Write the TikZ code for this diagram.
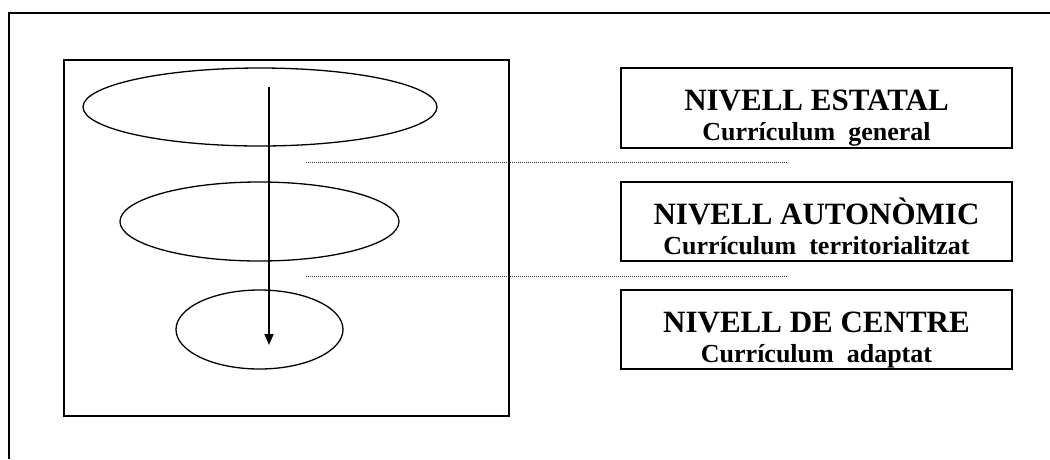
\documentclass[tikz,border=0pt]{standalone}
\usepackage{fontspec}
\setmainfont{Liberation Serif}
\usetikzlibrary{shapes.geometric,arrows.meta}
\begin{document}
\begin{tikzpicture}[x=1pt,y=-1pt,
  frameline/.style={line width=1.8pt},
  ring/.style={draw,ellipse,line width=1.3pt,inner sep=0pt,outer sep=0pt},
  lvlbox/.style={draw,line width=2pt,rectangle,minimum width=391pt,minimum height=79pt,
                 inner sep=0pt},
  lvltitle/.style={anchor=base,inner sep=0pt,font=\bfseries\fontsize{31}{33}\selectfont},
  lvlsub/.style={anchor=base,inner sep=0pt,font=\bfseries\fontsize{26}{28}\selectfont},
  guide/.style={line width=0.8pt,dash pattern=on 1pt off 1pt,black!80},
]
\useasboundingbox (0,0) rectangle (1050,459);
% outer page frame (top and left edges)
\coordinate (fr-r) at (1050,13);
\coordinate (fr-c) at (9,13);
\coordinate (fr-b) at (9,459);
\draw[frameline] (fr-r) -- (fr-c) -- (fr-b);
% inner panel
\node[draw,frameline,rectangle,minimum width=445pt,minimum height=356pt,inner sep=0pt,outer sep=0pt]
  (panel) at (286.5,238) {};
% nested levels
\node[ring,minimum width=354pt,minimum height=78pt] (e1) at (260,107) {};
\node[ring,minimum width=279pt,minimum height=79pt] (e2) at (259.5,221.5) {};
\node[ring,minimum width=167pt,minimum height=79pt] (e3) at (259.5,329.5) {};
% downward arrow
\coordinate (a-top) at (269,87);
\coordinate (a-bot) at (269,345);
\draw[line width=1.6pt,-{Triangle[length=11pt,width=9pt]}] (a-top) -- (a-bot);
% dotted separators
\coordinate (d1-l) at (306,162);
\coordinate (d1-r) at (788,162);
\coordinate (d2-l) at (306,276);
\coordinate (d2-r) at (788,276);
\draw[guide] (d1-l) -- (d1-r);
\draw[guide] (d2-l) -- (d2-r);
% level boxes
\node[lvlbox,minimum height=80pt] (b1) at (816.5,108) {};
\node[lvltitle] (t1) at (816.5,110) {NIVELL ESTATAL};
\node[lvlsub] (s1) at (816.5,140) {Currículum\ \ general};
\node[lvlbox] (b2) at (816.5,221.5) {};
\node[lvltitle] (t2) at (816.5,224) {NIVELL AUTONÒMIC};
\node[lvlsub] (s2) at (816.5,254) {Currículum\ \ territorialitzat};
\node[lvlbox] (b3) at (816.5,329.5) {};
\node[lvltitle] (t3) at (816.5,332) {NIVELL DE CENTRE};
\node[lvlsub] (s3) at (816.5,362) {Currículum\ \ adaptat};
\end{tikzpicture}
\end{document}
